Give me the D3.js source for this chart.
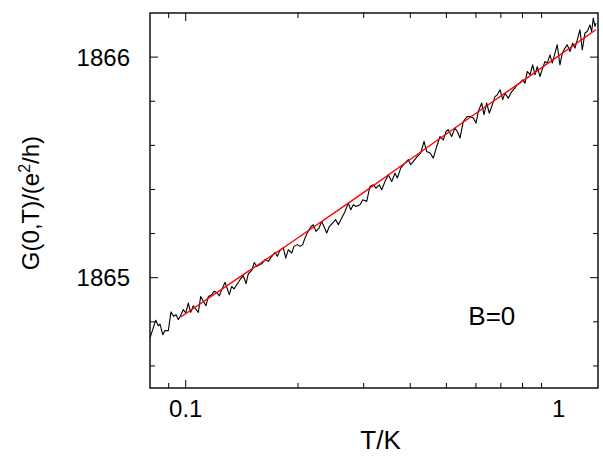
<!DOCTYPE html>
<html>
<head>
<meta charset="utf-8">
<script src="https://cdn.jsdelivr.net/npm/d3@7"></script>
<style>
  body { margin: 0; background: #fff; }
  svg text { font-family: "Liberation Sans", Arial, Helvetica, sans-serif; fill: #000; }
</style>
</head>
<body>
<div id="chart"></div>
<script>

var tempK = [
  0.0802, 0.0831, 0.0844, 0.0853, 0.0868, 0.0880, 0.0898, 0.0913, 0.0927, 0.0942,
  0.0955, 0.0965, 0.0985, 0.1000, 0.1016, 0.1031, 0.1048, 0.1064, 0.1081, 0.1097,
  0.1115, 0.1133, 0.1150, 0.1174, 0.1191, 0.1211, 0.1231, 0.1249, 0.1275, 0.1293,
  0.1309, 0.1328, 0.1347, 0.1370, 0.1398, 0.1427, 0.1451, 0.1472, 0.1503, 0.1527,
  0.1550, 0.1575, 0.1599, 0.1632, 0.1665, 0.1701, 0.1736, 0.1761, 0.1790, 0.1827,
  0.1854, 0.1884, 0.1924, 0.1951, 0.1992, 0.2025, 0.2059, 0.2088, 0.2118, 0.2163,
  0.2198, 0.2235, 0.2277, 0.2315, 0.2348, 0.2388, 0.2427, 0.2478, 0.2524, 0.2565,
  0.2620, 0.2674, 0.2729, 0.2770, 0.2814, 0.2862, 0.2933, 0.2982, 0.3057, 0.3119,
  0.3183, 0.3237, 0.3304, 0.3354, 0.3422, 0.3493, 0.3567, 0.3640, 0.3693, 0.3771,
  0.3873, 0.3953, 0.4012, 0.4077, 0.4179, 0.4266, 0.4355, 0.4428, 0.4519, 0.4612,
  0.4710, 0.4807, 0.4906, 0.4989, 0.5058, 0.5166, 0.5272, 0.5348, 0.5438, 0.5549,
  0.5689, 0.5784, 0.5904, 0.6003, 0.6089, 0.6218, 0.6306, 0.6412, 0.6516, 0.6614,
  0.6750, 0.6847, 0.6961, 0.7079, 0.7178, 0.7327, 0.7482, 0.7636, 0.7745, 0.7875,
  0.8008, 0.8124, 0.8239, 0.8378, 0.8519, 0.8641, 0.8764, 0.8912, 0.9061, 0.9191,
  0.9320, 0.9478, 0.9612, 0.9775, 0.9913, 1.0079, 1.0226, 1.0397, 1.0546, 1.0722,
  1.0902, 1.1059, 1.1218, 1.1406, 1.1570, 1.1764, 1.1933, 1.2133, 1.2262, 1.2384,
  1.2514, 1.2593
];
var conductance = [
  1864.727, 1864.807, 1864.782, 1864.790, 1864.742, 1864.761, 1864.760, 1864.845, 1864.825, 1864.832,
  1864.810, 1864.822, 1864.855, 1864.840, 1864.885, 1864.843, 1864.873, 1864.858, 1864.843, 1864.915,
  1864.893, 1864.873, 1864.915, 1864.923, 1864.938, 1864.933, 1864.918, 1864.946, 1864.979, 1864.949,
  1864.923, 1864.961, 1864.949, 1864.968, 1864.991, 1865.009, 1864.973, 1865.018, 1865.033, 1865.069,
  1865.051, 1865.059, 1865.063, 1865.082, 1865.074, 1865.097, 1865.115, 1865.097, 1865.124, 1865.135,
  1865.089, 1865.127, 1865.112, 1865.142, 1865.150, 1865.142, 1865.150, 1865.180, 1865.203, 1865.230,
  1865.240, 1865.210, 1865.225, 1865.255, 1865.232, 1865.203, 1865.232, 1865.248, 1865.263, 1865.240,
  1865.271, 1865.300, 1865.338, 1865.308, 1865.331, 1865.323, 1865.331, 1865.353, 1865.346, 1865.414,
  1865.421, 1865.406, 1865.421, 1865.399, 1865.436, 1865.467, 1865.436, 1865.474, 1865.452, 1865.497,
  1865.520, 1865.535, 1865.512, 1865.527, 1865.550, 1865.565, 1865.618, 1865.572, 1865.565, 1865.542,
  1865.595, 1865.640, 1865.625, 1865.663, 1865.671, 1865.640, 1865.678, 1865.663, 1865.633, 1865.708,
  1865.731, 1865.731, 1865.724, 1865.701, 1865.754, 1865.792, 1865.739, 1865.792, 1865.746, 1865.776,
  1865.821, 1865.829, 1865.852, 1865.807, 1865.837, 1865.814, 1865.844, 1865.860, 1865.875, 1865.882,
  1865.897, 1865.882, 1865.935, 1865.920, 1865.965, 1865.920, 1865.957, 1865.912, 1865.950, 1865.980,
  1865.973, 1866.010, 1865.973, 1866.018, 1866.056, 1865.965, 1866.018, 1866.041, 1866.056, 1866.025,
  1866.063, 1866.041, 1866.078, 1866.124, 1866.033, 1866.109, 1866.116, 1866.146, 1866.116, 1866.177,
  1866.139, 1866.154
];

// red fit curve
var fitT = [0.097, 0.143, 0.190, 0.281, 0.481, 0.821, 1.259];
var fitG = [1864.822, 1865.015, 1865.155, 1865.353, 1865.632, 1865.905, 1866.124];

// axes
var xDomain = [0.0802, 1.275],
    yDomain = [1864.5, 1866.2];
var xMajorTicks = [0.1],
    xMinorTicks = [0.09, 0.2, 0.3, 0.4, 0.5, 0.6, 0.7, 0.8, 0.9],
    xTickLabels = [0.1, 1];
var yMajorTicks = [1865, 1866],
    yMinorTicks = [1864.6, 1864.8, 1865.2, 1865.4, 1865.6, 1865.8];

var width = 603,
    height = 456,
    margin = {top: 13, right: 5, bottom: 68, left: 150},
    plotW = width - margin.left - margin.right,
    plotH = height - margin.top - margin.bottom;

var x = d3.scaleLog().domain(xDomain).range([0, plotW]);
var y = d3.scaleLinear().domain(yDomain).range([plotH, 0]);

var svg = d3.select("#chart").append("svg")
    .attr("width", width)
    .attr("height", height);

var g = svg.append("g")
    .attr("transform", "translate(" + margin.left + "," + margin.top + ")");

// clip traces to the frame
g.append("clipPath").attr("id", "plotclip")
  .append("rect").attr("width", plotW).attr("height", plotH);

var trace = d3.zip(tempK, conductance);
var fit = d3.zip(fitT, fitG);

var line = d3.line()
    .x(function (d) { return x(d[0]); })
    .y(function (d) { return y(d[1]); });

g.append("path")
    .datum(trace)
    .attr("clip-path", "url(#plotclip)")
    .attr("fill", "none")
    .attr("stroke", "#000")
    .attr("stroke-width", 1.1)
    .attr("stroke-linejoin", "round")
    .attr("d", line);

g.append("path")
    .datum(fit)
    .attr("clip-path", "url(#plotclip)")
    .attr("fill", "none")
    .attr("stroke", "#ff0000")
    .attr("stroke-width", 1.4)
    .attr("d", line.curve(d3.curveMonotoneX));

// inward ticks on all four sides
var majorLen = 8, minorLen = 5;

function xTicks(vals, len) {
    g.selectAll(null).data(vals).enter().append("line")
        .attr("x1", function (d) { return x(d); })
        .attr("x2", function (d) { return x(d); })
        .attr("y1", plotH).attr("y2", plotH - len)
        .attr("stroke", "#000").attr("stroke-width", 1);
    g.selectAll(null).data(vals).enter().append("line")
        .attr("x1", function (d) { return x(d); })
        .attr("x2", function (d) { return x(d); })
        .attr("y1", 0).attr("y2", len)
        .attr("stroke", "#000").attr("stroke-width", 1);
}

function yTicks(vals, len) {
    g.selectAll(null).data(vals).enter().append("line")
        .attr("y1", function (d) { return y(d); })
        .attr("y2", function (d) { return y(d); })
        .attr("x1", 0).attr("x2", len)
        .attr("stroke", "#000").attr("stroke-width", 1);
    g.selectAll(null).data(vals).enter().append("line")
        .attr("y1", function (d) { return y(d); })
        .attr("y2", function (d) { return y(d); })
        .attr("x1", plotW).attr("x2", plotW - len)
        .attr("stroke", "#000").attr("stroke-width", 1);
}

xTicks(xMajorTicks, majorLen);
xTicks(xMinorTicks, minorLen);
yTicks(yMajorTicks, majorLen);
yTicks(yMinorTicks, minorLen);

// frame
g.append("rect")
    .attr("width", plotW)
    .attr("height", plotH)
    .attr("fill", "none")
    .attr("stroke", "#000")
    .attr("stroke-width", 1.4);

// tick labels
g.selectAll(".xlab").data(xTickLabels).enter().append("text")
    .attr("class", "xlab")
    .attr("x", function (d) { return x(d); })
    .attr("y", plotH + 29)
    .attr("text-anchor", "middle")
    .style("font-size", "24px")
    .text(function (d) { return d3.format("~g")(d); });

g.selectAll(".ylab").data(yMajorTicks).enter().append("text")
    .attr("class", "ylab")
    .attr("x", -20)
    .attr("y", function (d) { return y(d); })
    .attr("dy", "0.36em")
    .attr("text-anchor", "end")
    .style("font-size", "24px")
    .text(function (d) { return d; });

// axis titles
svg.append("text")
    .attr("x", margin.left + x(0.333))
    .attr("y", 449)
    .attr("text-anchor", "middle")
    .style("font-size", "26px")
    .text("T/K");

var yTitle = svg.append("text")
    .attr("transform", "translate(39,203) rotate(-90)")
    .attr("text-anchor", "middle")
    .style("font-size", "24px");
yTitle.append("tspan").text("G(0,T)/(e");
yTitle.append("tspan").attr("dy", -9).style("font-size", "16px").text("2");
yTitle.append("tspan").attr("dy", 9).text("/h)");

// annotation
g.append("text")
    .attr("x", x(0.662))
    .attr("y", y(1864.785))
    .attr("text-anchor", "middle")
    .style("font-size", "26px")
    .text("B=0");

</script>
</body>
</html>
